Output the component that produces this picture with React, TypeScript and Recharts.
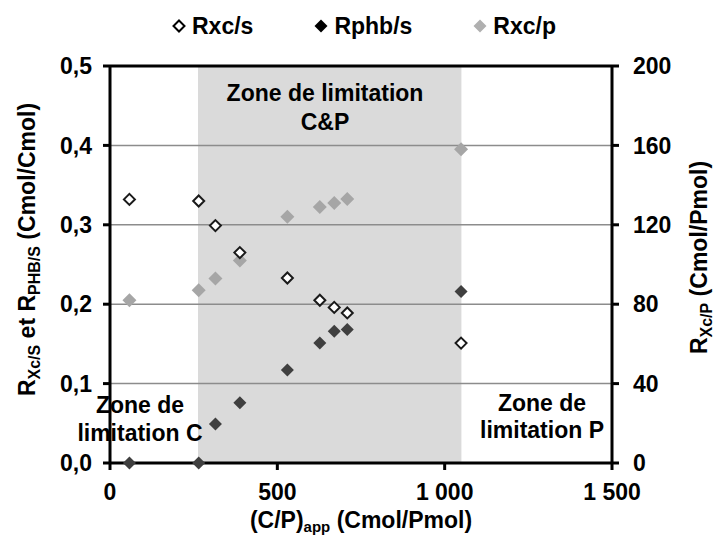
import {
  ScatterChart,
  Scatter,
  XAxis,
  YAxis,
  ReferenceArea,
  ReferenceLine,
  Legend,
  Customized,
} from "recharts";

// (C/P)app values of each experiment
const cpApp = [58, 265, 315, 388, 530, 627, 670, 709, 1049];
// yields read on the left axis (Cmol/Cmol)
const rxcS = [0.332, 0.33, 0.299, 0.265, 0.233, 0.205, 0.196, 0.189, 0.151];
const rphbS = [0, 0, 0.049, 0.076, 0.117, 0.151, 0.166, 0.168, 0.216];
// yield read on the right axis (Cmol/Pmol)
const rxcP = [82, 87, 93, 102, 124, 129, 131, 133, 158];

const xTicks = [0, 500, 1000, 1500];
const leftTicks = [0, 0.1, 0.2, 0.3, 0.4, 0.5];
const rightTicks = [0, 40, 80, 120, 160, 200];
const gridValues = [0.1, 0.2, 0.3, 0.4];
const zoneCP = [263, 1050];

const FONT = '"Liberation Sans", Arial, sans-serif';

const toPoints = (ys: number[]) => cpApp.map((x, i) => ({ x, y: ys[i] }));

function diamond(fill: string, stroke: string, r: number, sw: number) {
  return (props: any) => {
    const { cx, cy } = props;
    if (cx == null || cy == null) return null;
    return (
      <path
        d={`M${cx},${cy - r}L${cx + r},${cy}L${cx},${cy + r}L${cx - r},${cy}Z`}
        fill={fill}
        stroke={stroke}
        strokeWidth={sw}
      />
    );
  };
}

const series = [
  { name: "Rxc/s", fill: "#fff", stroke: "#000", sw: 2 },
  { name: "Rphb/s", fill: "#000", stroke: "none", sw: 0 },
  { name: "Rxc/p", fill: "#b0b0b0", stroke: "none", sw: 0 },
];

function LegendContent() {
  return (
    <div
      style={{
        display: "flex",
        alignItems: "center",
        height: 40,
        paddingLeft: 172,
        gap: 61,
        fontFamily: FONT,
        fontWeight: 700,
        fontSize: 23,
        color: "#000",
      }}
    >
      {series.map((s) => (
        <div key={s.name} style={{ display: "flex", alignItems: "center", gap: 6 }}>
          <svg width={14} height={14}>
            <path
              d={s.sw ? "M7,1.5L12.5,7L7,12.5L1.5,7Z" : "M7,0.5L13.5,7L7,13.5L0.5,7Z"}
              fill={s.fill}
              stroke={s.stroke}
              strokeWidth={s.sw}
            />
          </svg>
          <span>{s.name}</span>
        </div>
      ))}
    </div>
  );
}

const textProps = {
  fontFamily: FONT,
  fontWeight: 700,
  fontSize: 23,
  fill: "#000",
};

function XLabel(props: any) {
  const { x, y, width } = props.viewBox;
  return (
    <text x={x + width / 2} y={y + 65} textAnchor="middle" {...textProps}>
      (C/P)
      <tspan fontSize={15} dy={4}>app</tspan>
      <tspan dy={-4}> (Cmol/Pmol)</tspan>
    </text>
  );
}

function LeftLabel(props: any) {
  const { x, y, height } = props.viewBox;
  const bx = x - 15;
  const by = y + height / 2 - 15;
  return (
    <text x={bx} y={by} textAnchor="middle" transform={`rotate(-90, ${bx}, ${by})`} {...textProps}>
      R
      <tspan fontSize={16} dy={5}>Xc/S</tspan>
      <tspan dy={-5}> et R</tspan>
      <tspan fontSize={16} dy={5}>PHB/S</tspan>
      <tspan dy={-5}> (Cmol/Cmol)</tspan>
    </text>
  );
}

function RightLabel(props: any) {
  const { x, y, height } = props.viewBox;
  const bx = x + 95;
  const by = y + height / 2 - 7;
  return (
    <text x={bx} y={by} textAnchor="middle" transform={`rotate(-90, ${bx}, ${by})`} {...textProps}>
      R
      <tspan fontSize={16} dy={5}>Xc/P</tspan>
      <tspan dy={-5}> (Cmol/Pmol)</tspan>
    </text>
  );
}

function Zones() {
  return (
    <g textAnchor="middle" {...textProps}>
      <text x={325} y={101}>Zone de limitation</text>
      <text x={325} y={130}>C&amp;P</text>
      <text x={140} y={413}>Zone de</text>
      <text x={140} y={441}>limitation C</text>
      <text x={542} y={411}>Zone de</text>
      <text x={542} y={438}>limitation P</text>
    </g>
  );
}

const fmtX = (v: number) => (v >= 1000 ? `${Math.floor(v / 1000)} ${String(v % 1000).padStart(3, "0")}` : `${v}`);
const fmtLeft = (v: number) => v.toFixed(1).replace(".", ",");

const axisLine = { stroke: "#000", strokeWidth: 3 };
const tickLine = { stroke: "#000", strokeWidth: 3 };
const tick = { fontSize: 23, fontWeight: 700, fill: "#000", fontFamily: FONT };

export default function App() {
  return (
    <div>
      <style>{"body{margin:0}"}</style>
      <ScatterChart width={715} height={537} margin={{ top: 26, right: 43, bottom: 24, left: 50 }}>
        <ReferenceArea
          x1={zoneCP[0]}
          x2={zoneCP[1]}
          yAxisId="left"
          fill="#dadada"
          fillOpacity={1}
          stroke="none"
          zIndex={-50}
        />
        {gridValues.map((v) => (
          <ReferenceLine key={v} y={v} yAxisId="left" stroke="#8c8c8c" strokeWidth={1.5} />
        ))}
        <ReferenceLine y={0.5} yAxisId="left" stroke="#000" strokeWidth={3} />
        <XAxis
          dataKey="x"
          type="number"
          domain={[0, 1500]}
          ticks={xTicks}
          interval={0}
          tickFormatter={fmtX}
          axisLine={axisLine}
          tickLine={tickLine}
          tickSize={7}
          tickMargin={14}
          tick={tick}
          height={50}
          label={<XLabel />}
        />
        <YAxis
          yAxisId="left"
          dataKey="y"
          type="number"
          domain={[0, 0.5]}
          ticks={leftTicks}
          interval={0}
          tickFormatter={fmtLeft}
          axisLine={axisLine}
          tickLine={tickLine}
          tickSize={7}
          tickMargin={11}
          tick={tick}
          width={60}
          label={<LeftLabel />}
        />
        <YAxis
          yAxisId="right"
          orientation="right"
          dataKey="y"
          type="number"
          domain={[0, 200]}
          ticks={rightTicks}
          interval={0}
          axisLine={axisLine}
          tickLine={tickLine}
          tickSize={7}
          tickMargin={14}
          tick={tick}
          width={60}
          label={<RightLabel />}
        />
        <Scatter
          name="Rxc/p"
          data={toPoints(rxcP)}
          yAxisId="right"
          shape={diamond("#a6a6a6", "none", 7, 0)}
          isAnimationActive={false}
        />
        <Scatter
          name="Rxc/s"
          data={toPoints(rxcS)}
          yAxisId="left"
          shape={diamond("#fff", "#1a1a1a", 5.5, 2)}
          isAnimationActive={false}
        />
        <Scatter
          name="Rphb/s"
          data={toPoints(rphbS)}
          yAxisId="left"
          shape={diamond("#3f3f3f", "none", 6.5, 0)}
          isAnimationActive={false}
        />
        <Customized component={Zones} />
        <Legend
          verticalAlign="top"
          align="left"
          wrapperStyle={{ top: 6, left: 0, width: 715, height: 40 }}
          content={<LegendContent />}
        />
      </ScatterChart>
    </div>
  );
}
